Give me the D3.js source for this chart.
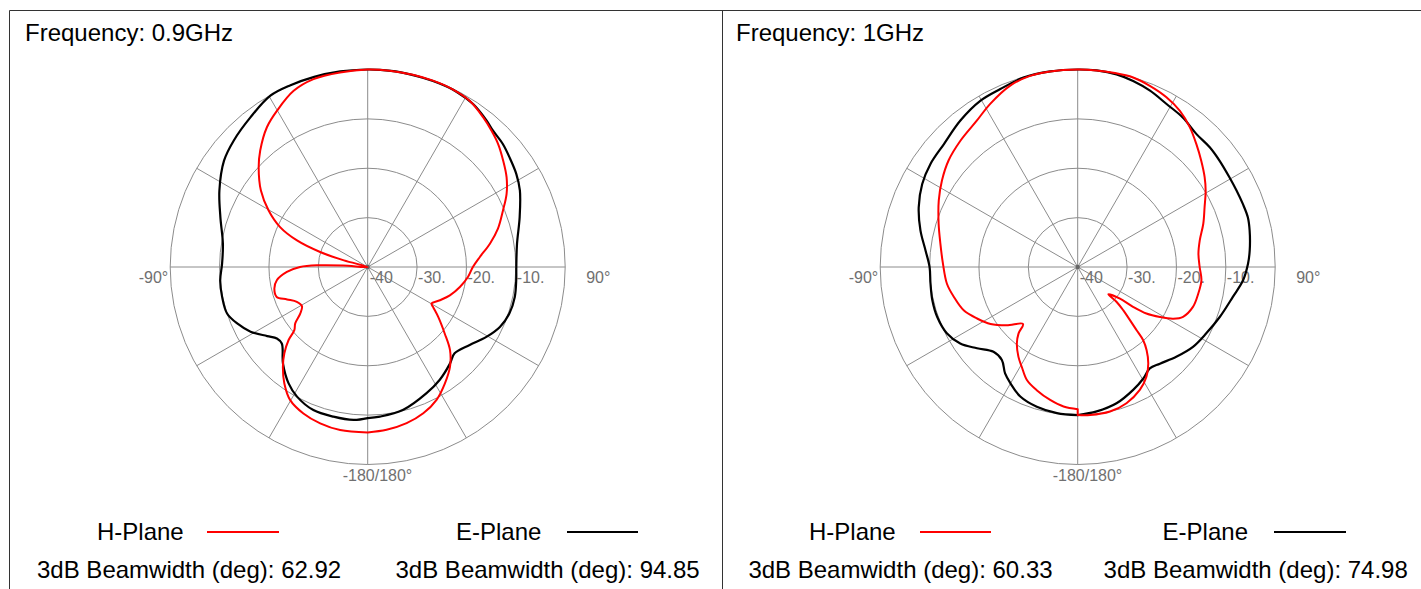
<!DOCTYPE html>
<html>
<head>
<meta charset="utf-8">
<script src="https://cdn.jsdelivr.net/npm/d3@7/dist/d3.min.js"></script>
<style>
  html, body { margin: 0; padding: 0; background: #fff; }
  svg { display: block; font-family: "Liberation Sans", Arial, sans-serif; }
</style>
</head>
<body>
<svg id="chart" width="1421" height="589"></svg>
<script>
// ---------------- DATA ----------------
const frequencies = ["Frequency: 0.9GHz", "Frequency: 1GHz"];
const seriesNames = ["H-Plane", "E-Plane"];
const beamwidthH = ["62.92", "60.33"];
const beamwidthE = ["94.85", "74.98"];
const ringTicks = [-40, -30, -20, -10];
const ringLabels = ["-40", "-30.", "-20.", "-10."];
const spokeAngles = [0, 30, 60, 90, 120, 150, 180, 210, 240, 270, 300, 330];
const angleLabels = ["-90°", "90°", "-180/180°"];

// 0.9 GHz, H-Plane (angle deg, clockwise from top)
const hAng09 = [-180,-170.4,-163.1,-156.3,-149.8,-144.4,-139.6,-136,-132.7,-130.7,-127.9,-124.6,-120.8,-116.2,-111.9,-108.2,-103,-98.3,-93.5,-90,-88,-86.5,-80,-74.5,-72.5,-69.4,-65.5,-60.3,-54.4,-47.6,-42.7,-35.8,-30.1,-22.8,-16.1,-8.1,0,6.4,13.2,19.1,25.4,31.5,37.6,42.2,46.7,51.8,57.1,62.2,67.3,73.6,79.2,84.9,90,95.7,102.2,109,114.7,119.8,121.4,125.3,130.8,135.3,140.5,146.5,152.6,159.2,166,173.4,180];
const hDb09  = [-6.5,-6.5,-6.9,-7.6,-8.8,-11.0,-13.5,-15.7,-18.2,-20.4,-21.4,-23.4,-24.5,-24.0,-22.4,-20.6,-20.6,-21.4,-23.6,-26.3,-30.0,-35.0,-40,-35.0,-29.9,-24.7,-20.5,-16.9,-13.4,-10.1,-7.9,-5.1,-3.4,-1.3,-0.4,-0.2,0,0,0,0,-0.1,-0.5,-1.7,-2.7,-3.7,-5.1,-6.5,-8.2,-10.3,-12.5,-14.8,-17.2,-18.7,-19.6,-20.9,-22.4,-23.9,-25.1,-24.5,-22.5,-19.4,-16.3,-13.8,-11.7,-9.7,-8.3,-7.4,-6.8,-6.5];

// 0.9 GHz, E-Plane
const eAng09 = [-180,-174.7,-167.1,-159.2,-151.4,-145.8,-138.7,-131.7,-128.2,-124.5,-118.9,-113.4,-108.3,-101.6,-95.2,-88.7,-80.9,-71.3,-62.7,-53.5,-46.7,-38.1,-29.6,-23,-15.7,-8,0,3.6,9.3,16.2,21.4,26.7,32.9,39.1,42.6,47.7,52.3,58,63.3,71.8,81.2,90,95.1,101.5,108.2,114.4,120.5,127.4,134.8,139.6,147.4,155,166,175.3,180];
const eDb09  = [-9.4,-8.9,-8.9,-9.0,-10.1,-11.5,-14.0,-16.7,-16.6,-15.3,-12.9,-11.2,-10.0,-9.9,-10.0,-10.5,-10.3,-8.5,-6.2,-3.8,-2.7,-1.5,-0.1,0,0,0,0,0,0,-0.1,-0.1,-0.2,-0.7,-1.8,-2.5,-3.0,-3.7,-4.5,-5.5,-7.6,-9.4,-9.9,-9.8,-9.6,-9.8,-10.6,-12.1,-14.0,-15.2,-14.3,-12.9,-11.8,-10.2,-9.6,-9.4];

// 1 GHz, H-Plane
const hAng10 = [-180,-174.2,-168.3,-161.6,-155.8,-150.8,-146.6,-141.5,-138.3,-136.2,-129.4,-123.2,-117.1,-110.8,-103.6,-97.3,-88.6,-80.4,-72.7,-64.4,-57.5,-50.5,-42.9,-34.6,-28.2,-20.4,-14,-8,0,5.5,10.4,16.3,21.7,27.6,33.2,38.7,44,49.3,54.7,59.1,64.8,71,77.7,83.7,90,96.1,102.5,109.1,115.3,118.4,121.3,124.1,125.7,126.8,131.7,131.9,133.5,135.5,137,138.2,140.4,143.8,147.9,153.2,160.3,167.4,175.2,180];
const hDb10  = [-11.2,-11.6,-12.5,-13.7,-14.9,-16.8,-18.2,-20.2,-22.0,-24.0,-21.4,-18.9,-17.1,-15.3,-14.2,-13.3,-12.7,-11.8,-10.5,-8.8,-7.4,-6.1,-5.1,-4.0,-2.5,-0.8,-0.1,0,0,0,0,0,-0.5,-1.2,-2.2,-3.7,-5.4,-7.0,-8.5,-9.8,-11.6,-13.1,-14.7,-15.4,-15.3,-14.8,-15.0,-15.3,-16.4,-18.0,-20.5,-23.2,-26.2,-29.3,-31.7,-29.4,-27.3,-24.9,-22.5,-20.1,-18.1,-15.8,-13.8,-12.1,-10.7,-10.0,-9.9,-10.0];

// 1 GHz, E-Plane
const eAng10 = [-180,-171.9,-163.7,-156.1,-149.9,-145.7,-140.8,-135.2,-128.9,-123.1,-117,-109.5,-102.9,-96.4,-90,-83.8,-76.9,-69.4,-61.9,-55,-47.4,-38.7,-30.4,-23.5,-16,-8,0,5.5,11.4,16.6,22.3,28.6,35.2,41.8,47.8,53.2,59.4,64.3,69.1,73.7,78,84.5,88.9,94.6,100.9,109.4,117.3,124.7,132.3,139.6,144.6,149.5,155.7,164.1,172.5,180];
const eDb10  = [-10.0,-10.1,-10.5,-11.3,-12.8,-13.9,-15.7,-15.8,-13.8,-11.6,-10.3,-9.8,-9.8,-10.0,-10.0,-9.0,-7.3,-5.6,-4.3,-3.6,-3.2,-2.0,-1.0,-0.7,-0.1,0,0,0,-0.2,-0.7,-1.4,-2.4,-3.0,-3.9,-3.9,-4.1,-4.3,-4.3,-4.2,-4.1,-4.4,-5.0,-5.5,-6.4,-8.0,-9.5,-10.7,-11.6,-13.0,-14.3,-14.8,-13.8,-12.7,-11.3,-10.5,-10.0];

// ---------------- LAYOUT ----------------
const svg = d3.select("#chart");
svg.append("rect").attr("width", 1421).attr("height", 589).attr("fill", "#fff");

const R = 197.5;
const rScale = d3.scaleLinear().domain([-40, 0]).range([0, R]).clamp(true);

const panels = [
  { cx: 367.7, cy: 267, freqX: 25, hX: 97, hLine: [207, 279], eX: 456, eLine: [567, 638], bwHX: 37, bwEX: 395.5,
    h: d3.zip(hAng09, hDb09), e: d3.zip(eAng09, eDb09), bwH: beamwidthH[0], bwE: beamwidthE[0], freq: frequencies[0] },
  { cx: 1077.7, cy: 267, freqX: 736, hX: 809, hLine: [920, 991], eX: 1162.6, eLine: [1274, 1346], bwHX: 748.4, bwEX: 1103.6,
    h: d3.zip(hAng10, hDb10), e: d3.zip(eAng10, eDb10), bwH: beamwidthH[1], bwE: beamwidthE[1], freq: frequencies[1] }
];

// frame lines
svg.append("line").attr("x1", 9.5).attr("x2", 1421).attr("y1", 10.5).attr("y2", 10.5).attr("stroke", "#333").attr("stroke-width", 1);
svg.append("line").attr("x1", 9.5).attr("x2", 9.5).attr("y1", 10.5).attr("y2", 589).attr("stroke", "#333").attr("stroke-width", 1);
svg.append("line").attr("x1", 722.5).attr("x2", 722.5).attr("y1", 10.5).attr("y2", 589).attr("stroke", "#333").attr("stroke-width", 1);

const radial = d3.lineRadial()
  .angle(d => d[0] * Math.PI / 180)
  .radius(d => rScale(d[1]))
  .curve(d3.curveCatmullRom.alpha(0.5));

const gridColor = "#8c8c8c";
const labelColor = "#707070";

panels.forEach(p => {
  const g = svg.append("g").attr("transform", `translate(${p.cx},${p.cy})`);

  // rings
  g.selectAll("circle.ring").data(ringTicks.slice(1).concat([0])).enter().append("circle")
    .attr("class", "ring").attr("r", d => rScale(d))
    .attr("fill", "none").attr("stroke", gridColor).attr("stroke-width", 1);

  // spokes
  g.selectAll("line.spoke").data(spokeAngles).enter().append("line")
    .attr("x1", 0).attr("y1", 0)
    .attr("x2", d => R * Math.sin(d * Math.PI / 180))
    .attr("y2", d => -R * Math.cos(d * Math.PI / 180))
    .attr("stroke", gridColor).attr("stroke-width", 1);

  // ring labels
  g.selectAll("text.rl").data(ringTicks).enter().append("text")
    .attr("x", (d, i) => i === 0 ? 2 : rScale(d) + 1)
    .attr("y", 16)
    .attr("font-size", 16).attr("fill", labelColor)
    .text((d, i) => ringLabels[i]);

  // angle labels
  g.append("text").attr("x", -R - 2).attr("y", 16).attr("text-anchor", "end")
    .attr("font-size", 16).attr("fill", labelColor).text(angleLabels[0]);
  g.append("text").attr("x", R + 21).attr("y", 16)
    .attr("font-size", 16).attr("fill", labelColor).text(angleLabels[1]);
  g.append("text").attr("x", -25).attr("y", R + 16)
    .attr("font-size", 16).attr("fill", labelColor).text(angleLabels[2]);

  // center dot
  g.append("circle").attr("r", 2.2).attr("fill", "#666");

  // curves
  g.append("path").attr("d", radial(p.e) + "Z")
    .attr("fill", "none").attr("stroke", "#000").attr("stroke-width", 2.2).attr("stroke-linejoin", "round");
  g.append("path").attr("d", radial(p.h) + "Z")
    .attr("fill", "none").attr("stroke", "#ff0000").attr("stroke-width", 2).attr("stroke-linejoin", "round");

  // titles and legend
  svg.append("text").attr("x", p.freqX).attr("y", 41).attr("font-size", 24).attr("fill", "#000").text(p.freq);
  svg.append("text").attr("x", p.hX).attr("y", 539.5).attr("font-size", 24).attr("fill", "#000").text(seriesNames[0]);
  svg.append("line").attr("x1", p.hLine[0]).attr("x2", p.hLine[1]).attr("y1", 532).attr("y2", 532)
    .attr("stroke", "#ff0000").attr("stroke-width", 2);
  svg.append("text").attr("x", p.eX).attr("y", 539.5).attr("font-size", 24).attr("fill", "#000").text(seriesNames[1]);
  svg.append("line").attr("x1", p.eLine[0]).attr("x2", p.eLine[1]).attr("y1", 532).attr("y2", 532)
    .attr("stroke", "#000").attr("stroke-width", 2);
  svg.append("text").attr("x", p.bwHX).attr("y", 578).attr("font-size", 24).attr("fill", "#000")
    .text("3dB Beamwidth (deg): " + p.bwH);
  svg.append("text").attr("x", p.bwEX).attr("y", 578).attr("font-size", 24).attr("fill", "#000")
    .text("3dB Beamwidth (deg): " + p.bwE);
});
</script>
</body>
</html>
